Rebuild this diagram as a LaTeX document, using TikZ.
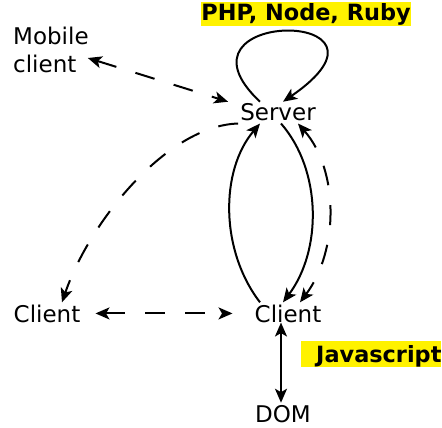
\documentclass[tikz,border=0pt]{standalone}
\usepackage{fontspec}
\setmainfont{DejaVu Sans}
\usetikzlibrary{arrows.meta}
\newlength\lwidth
\setlength\lwidth{2pt}
\newlength\dashlen
\setlength\dashlen{20pt}

\begin{document}
\begin{tikzpicture}[x=1pt,y=-1pt,
    every node/.style={inner sep=2pt,font=\fontsize{23}{27.3}\selectfont},
    hl/.style={fill=yellow,inner xsep=0pt,inner ysep=0pt,font=\fontsize{22.4}{27.3}\selectfont\bfseries},
    flow/.style={line width=\lwidth,-{Stealth[length=14pt,width=12pt,inset=3.5pt]}},
    twoway/.style={line width=\lwidth,{Stealth[length=14pt,width=12pt,inset=3.5pt]}-{Stealth[length=14pt,width=12pt,inset=3.5pt]}},
    dashy/.style={dash pattern=on \dashlen off \dashlen}]
    \useasboundingbox (0,0) rectangle (442,428);

    % labels
    \node[hl,anchor=base,text height=19pt,text depth=5pt] (php) at (306,21) {PHP, Node, Ruby};
    \node[hl,anchor=base west,text height=21pt,text depth=5pt] (js) at (301,362) {\hspace*{15pt}Javascript};

    % nodes
    \node[anchor=west,align=left] (mobile) at (11,50) {Mobile\\client};
    \node[anchor=base] (server) at (278,121) {Server};
    \node[anchor=base] (clientL) at (47,322) {Client};
    \node[anchor=base] (clientR) at (288,322) {Client};
    \node[anchor=base] (dom) at (283,422) {DOM};

    % server loop
    \draw[flow] ([xshift=-18pt]server.north) .. controls +(-100,-94) and +(137,-94) .. ([xshift=5pt]server.north);

    % mobile client
    \draw[twoway,dashy] ([xshift=-3pt,yshift=-8pt]mobile.east) -- ([xshift=-10pt]server.north west);

    % server to left client
    \draw[flow,dashy] (server.south west) .. controls +(-70,2) and +(28,-82) .. ([xshift=15pt]clientL.north);

    % server and right client
    \draw[flow] ([xshift=-28pt]clientR.north) .. controls +(-40,-52) and +(-40,47) .. ([xshift=-18pt]server.south);
    \draw[flow] ([xshift=3pt]server.south) .. controls +(41,47) and +(39,-52) .. ([xshift=-5pt]clientR.north);
    \draw[twoway,dashy] ([xshift=20pt]server.south) .. controls +(41,47) and +(39,-52) .. ([xshift=12pt]clientR.north);

    % clients
    \draw[twoway,dashy] ([xshift=13pt]clientL.east) -- ([xshift=-20pt]clientR.west);

    % dom
    \draw[twoway] ([xshift=-7pt,yshift=2pt]clientR.south) -- ([xshift=-2pt]dom.north);
\end{tikzpicture}
\end{document}
